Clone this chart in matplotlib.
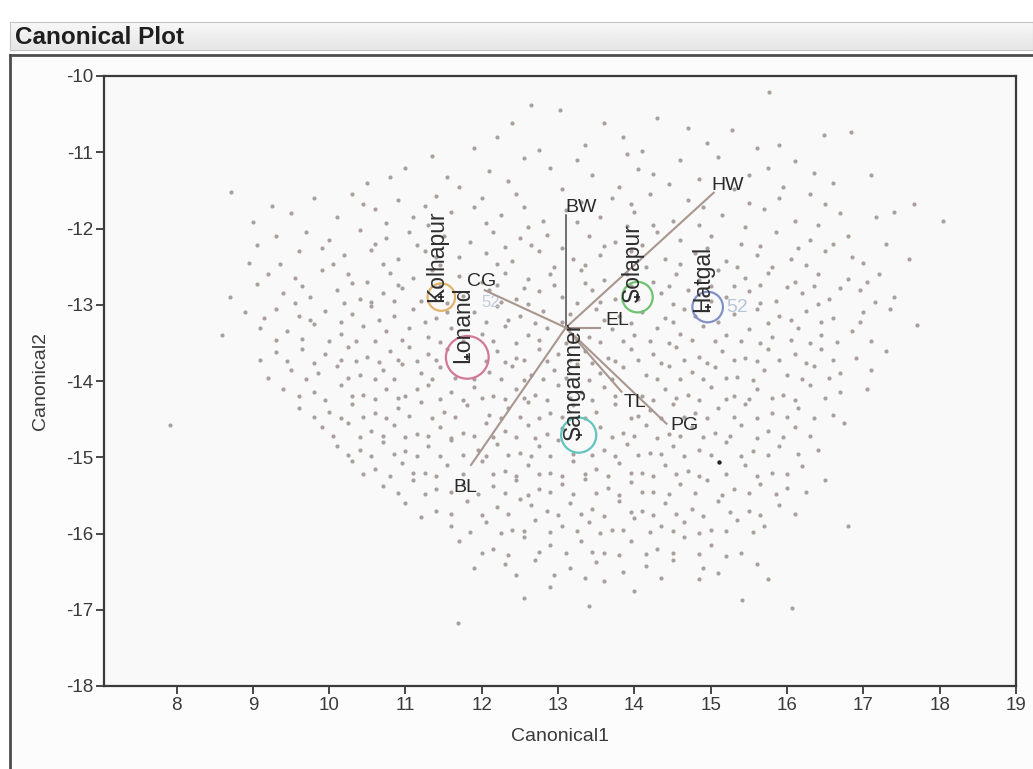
import numpy as np
import matplotlib
matplotlib.use("Agg")
import matplotlib.pyplot as plt
from matplotlib.patches import Circle
from matplotlib import font_manager

plt.rcParams['font.family'] = ['Liberation Sans', 'DejaVu Sans']
narrow_font = ['Liberation Sans Narrow', 'Liberation Sans', 'DejaVu Sans']
print(sorted({f.name for f in font_manager.fontManager.ttflist if 'Liberation' in f.name}))

# canonical scores of the individual samples (Canonical1, Canonical2)
scores = [
    (15.77, -10.21), (12.65, -10.38), (13.02, -10.44), (13.6, -10.62), (15.28, -10.71), (16.48, -10.77),
    (16.84, -10.74), (14.3, -10.55), (12.2, -10.8), (14.95, -10.88), (13.35, -10.9), (11.9, -10.95),
    (15.6, -10.95), (14.1, -10.98),
    (11.35, -11.05), (12.55, -11.08), (13.9, -11.02), (14.6, -11.1), (15.1, -11.06), (16.1, -11.12),
    (11.0, -11.2), (12.1, -11.25), (12.9, -11.2), (13.45, -11.3), (14.25, -11.28), (14.85, -11.35),
    (15.5, -11.3), (16.6, -11.4), (10.5, -11.4), (11.7, -11.45), (13.05, -11.48), (13.8, -11.45),
    (15.3, -11.48), (17.1, -11.3), (8.71, -11.52),
    (9.8, -11.6), (10.3, -11.55), (10.9, -11.62), (11.4, -11.58), (12.0, -11.6), (12.45, -11.55),
    (13.3, -11.65), (13.7, -11.6), (14.2, -11.55), (14.7, -11.62), (15.9, -11.6), (16.3, -11.55),
    (17.67, -11.68), (9.5, -11.8), (10.1, -11.85), (10.6, -11.75), (11.1, -11.85), (11.6, -11.78),
    (12.25, -11.82), (12.8, -11.9), (13.55, -11.85), (14.0, -11.78), (14.5, -11.9), (15.15, -11.82),
    (15.7, -11.75), (16.1, -11.9), (16.7, -11.8), (17.16, -11.85), (18.04, -11.9), (9.0, -11.92),
    (11.3, -11.95), (12.6, -11.98), (13.9, -11.97), (15.45, -11.98),
    (9.3, -12.1), (9.7, -12.05), (10.0, -12.15), (10.4, -12.02), (10.75, -12.12), (11.05, -12.05),
    (11.5, -12.1), (11.85, -12.18), (12.15, -12.05), (12.5, -12.12), (12.85, -12.08), (13.4, -12.1),
    (13.75, -12.18), (14.3, -12.05), (14.6, -12.15), (15.0, -12.1), (15.4, -12.2), (15.85, -12.05),
    (16.3, -12.15), (16.8, -12.1), (17.3, -12.2), (9.6, -12.3), (10.2, -12.35), (10.55, -12.28),
    (10.9, -12.4), (11.25, -12.3), (11.7, -12.38), (12.05, -12.32), (12.4, -12.42), (12.75, -12.3),
    (13.2, -12.4), (13.55, -12.35), (13.95, -12.3), (14.4, -12.4), (14.8, -12.32), (15.2, -12.42),
    (15.6, -12.35), (16.05, -12.4), (16.5, -12.3), (17.0, -12.45), (8.95, -12.45), (17.6, -12.4),
    (11.45, -12.48), (12.95, -12.5), (14.15, -12.5), (15.8, -12.5),
    (9.2, -12.6), (9.55, -12.65), (9.9, -12.55), (10.25, -12.6), (10.5, -12.7), (10.8, -12.58),
    (11.1, -12.65), (11.35, -12.55), (11.7, -12.62), (12.0, -12.7), (12.3, -12.58), (12.6, -12.66),
    (12.9, -12.6), (13.3, -12.55), (13.6, -12.68), (13.9, -12.6), (14.25, -12.7), (14.55, -12.6),
    (14.85, -12.68), (15.1, -12.55), (15.45, -12.65), (15.75, -12.58), (16.1, -12.7), (16.4, -12.6),
    (16.8, -12.66), (17.2, -12.6), (9.4, -12.85), (9.75, -12.9), (10.1, -12.8), (10.4, -12.92),
    (10.7, -12.85), (10.95, -12.78), (11.2, -12.95), (11.75, -12.88), (12.1, -12.8), (12.45, -12.92),
    (12.75, -12.82), (13.05, -12.9), (13.45, -12.8), (13.75, -12.92), (14.35, -12.85), (14.7, -12.8),
    (15.2, -12.9), (15.5, -12.82), (15.85, -12.95), (16.2, -12.85), (16.55, -12.92), (16.95, -12.8),
    (17.4, -12.9), (8.7, -12.9), (10.2, -12.98), (11.55, -12.98), (13.25, -12.98), (14.5, -12.99),
    (15.3, -12.75), (16.0, -12.77),
    (8.9, -13.1), (9.3, -13.05), (9.6, -13.15), (9.95, -13.08), (10.3, -13.12), (10.55, -13.02),
    (10.85, -13.15), (11.1, -13.05), (11.4, -13.18), (11.9, -13.1), (12.2, -13.02), (12.5, -13.15),
    (12.8, -13.08), (13.15, -13.12), (13.5, -13.05), (13.8, -13.15), (14.1, -13.1), (14.4, -13.18),
    (14.65, -13.05), (15.3, -13.12), (15.6, -13.05), (15.9, -13.15), (16.25, -13.08), (16.6, -13.18),
    (17.0, -13.1), (17.35, -13.05), (9.1, -13.3), (9.45, -13.35), (9.8, -13.25), (10.15, -13.38),
    (10.45, -13.28), (10.75, -13.35), (11.05, -13.3), (11.3, -13.42), (11.6, -13.3), (12.0, -13.38),
    (12.3, -13.28), (12.6, -13.4), (12.85, -13.3), (13.4, -13.42), (13.7, -13.32), (14.0, -13.4),
    (14.3, -13.3), (14.6, -13.38), (14.9, -13.28), (15.2, -13.4), (15.5, -13.32), (15.8, -13.42),
    (16.15, -13.3), (16.45, -13.4), (16.85, -13.35), (17.7, -13.27), (10.0, -13.48), (11.75, -13.48),
    (13.1, -13.5), (15.05, -13.48), (16.3, -13.5), (8.6, -13.4),
    (9.3, -13.62), (9.65, -13.58), (9.95, -13.65), (10.25, -13.55), (10.5, -13.68), (10.8, -13.6),
    (11.05, -13.55), (11.3, -13.65), (11.55, -13.58), (12.2, -13.6), (12.45, -13.7), (12.75, -13.58),
    (13.0, -13.65), (13.35, -13.6), (13.65, -13.7), (13.95, -13.58), (14.25, -13.65), (14.55, -13.55),
    (14.85, -13.68), (15.15, -13.6), (15.45, -13.7), (15.75, -13.58), (16.1, -13.65), (16.45, -13.58),
    (16.9, -13.7), (17.3, -13.6), (9.5, -13.85), (9.85, -13.9), (10.1, -13.8), (10.4, -13.92),
    (10.7, -13.85), (10.95, -13.78), (11.2, -13.9), (11.45, -13.82), (12.1, -13.88), (12.4, -13.8),
    (12.65, -13.92), (12.95, -13.85), (13.25, -13.78), (13.55, -13.9), (13.85, -13.82), (14.15, -13.92),
    (14.45, -13.8), (14.75, -13.88), (15.05, -13.82), (15.35, -13.95), (15.7, -13.85), (16.0, -13.92),
    (16.35, -13.8), (16.7, -13.9), (10.6, -13.98), (11.9, -13.98), (13.4, -13.99), (14.9, -13.98),
    (9.4, -14.1), (9.8, -14.15), (10.15, -14.05), (10.45, -14.18), (10.75, -14.1), (11.0, -14.2),
    (11.3, -14.05), (11.6, -14.15), (11.9, -14.08), (12.15, -14.2), (12.45, -14.1), (12.7, -14.18),
    (13.0, -14.05), (13.3, -14.15), (13.6, -14.08), (14.1, -14.2), (14.4, -14.1), (14.7, -14.18),
    (15.0, -14.08), (15.3, -14.2), (15.6, -14.1), (15.95, -14.18), (16.3, -14.05), (16.7, -14.15),
    (17.05, -14.1), (9.6, -14.35), (10.0, -14.4), (10.3, -14.3), (10.6, -14.42), (10.9, -14.35),
    (11.2, -14.28), (11.5, -14.4), (11.8, -14.32), (12.1, -14.45), (12.35, -14.35), (12.6, -14.28),
    (12.9, -14.42), (13.2, -14.32), (13.5, -14.4), (13.75, -14.3), (14.2, -14.38), (14.5, -14.3),
    (14.8, -14.42), (15.1, -14.35), (15.45, -14.3), (15.8, -14.42), (16.15, -14.35), (16.6, -14.45),
    (7.92, -14.58), (11.35, -14.48), (13.95, -14.48),
    (9.9, -14.6), (10.25, -14.55), (10.55, -14.65), (10.85, -14.58), (11.15, -14.7), (11.45, -14.6),
    (11.75, -14.68), (12.05, -14.55), (12.3, -14.65), (12.6, -14.58), (12.85, -14.7), (13.55, -14.6),
    (13.85, -14.68), (14.15, -14.58), (14.45, -14.7), (14.75, -14.6), (15.05, -14.68), (15.4, -14.58),
    (15.75, -14.65), (16.1, -14.6), (16.75, -14.55), (10.1, -14.85), (10.4, -14.9), (10.7, -14.8),
    (11.0, -14.92), (11.3, -14.85), (11.6, -14.78), (11.95, -14.9), (12.2, -14.82), (12.5, -14.95),
    (12.75, -14.85), (13.0, -14.78), (13.6, -14.9), (13.9, -14.82), (14.2, -14.95), (14.5, -14.85),
    (14.85, -14.9), (15.2, -14.8), (15.55, -14.92), (15.9, -14.85), (16.4, -14.9), (12.9, -14.98),
    (11.45, -14.99),
    (10.3, -15.05), (10.6, -15.15), (10.95, -15.08), (11.25, -15.2), (11.55, -15.1), (12.0, -15.05),
    (12.3, -15.18), (12.6, -15.1), (12.9, -15.2), (13.2, -15.05), (13.5, -15.15), (13.8, -15.08),
    (14.1, -15.2), (14.4, -15.1), (14.7, -15.18), (15.45, -15.1), (15.8, -15.2), (16.2, -15.12),
    (10.7, -15.38), (11.1, -15.3), (11.4, -15.42), (11.75, -15.35), (12.15, -15.38), (12.45, -15.3),
    (12.75, -15.42), (13.05, -15.35), (13.35, -15.28), (13.65, -15.4), (13.95, -15.32), (14.25, -15.45),
    (14.6, -15.35), (14.95, -15.3), (15.3, -15.42), (15.65, -15.35), (16.0, -15.4), (16.5, -15.3),
    (11.0, -15.6), (11.4, -15.7), (11.8, -15.58), (12.2, -15.65), (12.5, -15.55), (12.85, -15.7),
    (13.15, -15.6), (13.45, -15.68), (13.8, -15.58), (14.1, -15.7), (14.4, -15.6), (14.75, -15.68),
    (15.1, -15.58), (15.5, -15.7), (15.9, -15.62), (11.6, -15.9), (12.05, -15.85), (12.4, -15.95),
    (12.7, -15.82), (13.05, -15.9), (13.4, -15.85), (13.7, -15.95), (14.0, -15.8), (14.35, -15.9),
    (14.65, -15.85), (15.0, -15.95), (15.35, -15.82), (15.7, -15.9), (16.8, -15.9),
    (11.7, -16.1), (12.15, -16.2), (12.55, -16.05), (12.9, -16.15), (13.3, -16.1), (13.6, -16.25),
    (13.95, -16.1), (14.3, -16.2), (14.65, -16.05), (15.0, -16.15), (15.4, -16.25), (12.3, -16.4),
    (12.7, -16.35), (13.15, -16.45), (13.5, -16.38), (14.15, -16.42), (14.5, -16.35), (14.9, -16.45),
    (15.6, -16.4), (11.9, -16.45),
    (13.35, -16.58), (13.6, -16.62), (12.55, -16.85), (14.85, -16.6), (15.41, -16.87), (16.07, -16.98),
    (11.69, -17.17), (13.4, -16.95), (14.0, -16.75), (12.9, -16.7),
    # second pass of samples
    (12.4, -10.62), (14.7, -10.68), (13.85, -10.8), (15.9, -10.9), (12.75, -10.97), (11.55, -11.32),
    (12.35, -11.38), (13.25, -11.1), (14.05, -11.22), (15.75, -11.2), (16.35, -11.27), (10.8, -11.32),
    (14.45, -11.42), (15.95, -11.45),
    (9.25, -11.7), (10.45, -11.68), (11.25, -11.7), (11.9, -11.72), (12.55, -11.72), (13.1, -11.76),
    (13.95, -11.68), (14.9, -11.72), (15.5, -11.66), (16.5, -11.68), (10.75, -11.93), (12.05, -11.93),
    (13.25, -11.92), (14.25, -11.95), (14.85, -11.96), (16.4, -11.96), (17.4, -11.78),
    (9.05, -12.22), (9.9, -12.25), (10.6, -12.2), (11.15, -12.22), (11.4, -12.38), (12.3, -12.24),
    (12.65, -12.22), (13.05, -12.25), (13.6, -12.23), (14.1, -12.22), (14.95, -12.26), (15.65, -12.23),
    (16.15, -12.25), (16.6, -12.2), (9.35, -12.47), (10.05, -12.46), (10.7, -12.47), (12.2, -12.47),
    (13.35, -12.48), (14.6, -12.47), (15.35, -12.5), (16.25, -12.48), (16.85, -12.38),
    (9.05, -12.73), (9.65, -12.76), (10.3, -12.72), (10.9, -12.74), (11.45, -12.75), (12.2, -12.74),
    (12.55, -12.78), (12.95, -12.74), (13.35, -12.72), (13.95, -12.75), (14.45, -12.76), (15.0, -12.75),
    (15.65, -12.74), (16.35, -12.76), (16.7, -12.78), (17.05, -12.7), (9.55, -12.98), (10.55, -12.97),
    (10.85, -12.95), (12.25, -12.96), (12.6, -12.99), (13.55, -12.97), (14.05, -12.92), (15.0, -12.95),
    (15.65, -12.98), (16.4, -12.99), (17.15, -12.97),
    (9.15, -13.18), (9.75, -13.2), (10.15, -13.22), (10.65, -13.2), (11.25, -13.22), (11.55, -13.1),
    (12.05, -13.22), (12.35, -13.2), (12.7, -13.24), (13.05, -13.22), (13.6, -13.2), (13.95, -13.24),
    (14.5, -13.22), (14.8, -13.15), (15.1, -13.22), (15.75, -13.24), (16.05, -13.2), (16.45, -13.22),
    (16.95, -13.22), (9.3, -13.46), (9.65, -13.45), (10.35, -13.47), (10.6, -13.48), (10.95, -13.46),
    (11.45, -13.49), (12.15, -13.47), (12.45, -13.5), (12.75, -13.46), (13.55, -13.49), (13.85, -13.48),
    (14.2, -13.48), (14.45, -13.5), (14.75, -13.46), (15.4, -13.47), (15.65, -13.5), (16.05, -13.46),
    (16.65, -13.49), (17.1, -13.47),
    (9.1, -13.72), (9.45, -13.74), (9.8, -13.76), (10.15, -13.72), (10.35, -13.74), (10.65, -13.75),
    (10.9, -13.72), (11.15, -13.74), (11.4, -13.72), (12.05, -13.74), (12.3, -13.75), (12.55, -13.72),
    (12.85, -13.74), (13.15, -13.72), (13.45, -13.76), (13.75, -13.74), (14.05, -13.72), (14.35, -13.76),
    (14.65, -13.73), (14.95, -13.76), (15.3, -13.72), (15.6, -13.74), (15.9, -13.73), (16.25, -13.76),
    (16.6, -13.72), (9.2, -13.96), (9.7, -13.98), (10.25, -13.96), (10.85, -13.97), (11.35, -13.98),
    (11.65, -13.96), (12.25, -13.97), (12.55, -13.99), (12.8, -13.97), (13.1, -13.96), (13.7, -13.98),
    (14.3, -13.97), (14.6, -13.98), (15.2, -13.96), (15.55, -13.99), (16.2, -13.97), (16.55, -13.96),
    (17.1, -13.85),
    (9.6, -14.2), (9.95, -14.25), (10.3, -14.2), (10.6, -14.23), (10.9, -14.22), (11.15, -14.1),
    (11.45, -14.24), (11.75, -14.25), (12.0, -14.22), (12.3, -14.24), (12.55, -14.22), (12.85, -14.25),
    (13.15, -14.22), (13.45, -14.25), (13.75, -14.2), (14.25, -14.25), (14.55, -14.22), (14.85, -14.25),
    (15.2, -14.23), (15.5, -14.24), (15.8, -14.22), (16.1, -14.25), (16.5, -14.22), (9.8, -14.47),
    (10.15, -14.48), (10.45, -14.47), (10.75, -14.49), (11.05, -14.46), (11.65, -14.47), (12.25, -14.49),
    (12.5, -14.47), (12.75, -14.48), (13.05, -14.47), (13.35, -14.49), (14.05, -14.46), (14.35, -14.48),
    (14.65, -14.47), (14.95, -14.49), (15.3, -14.47), (15.6, -14.49), (16.0, -14.47), (16.35, -14.48),
    (10.05, -14.72), (10.4, -14.74), (10.7, -14.72), (11.0, -14.74), (11.3, -14.72), (11.6, -14.75),
    (11.9, -14.72), (12.15, -14.74), (12.45, -14.73), (12.7, -14.75), (13.05, -14.62), (13.7, -14.74),
    (14.0, -14.72), (14.3, -14.75), (14.6, -14.72), (14.9, -14.74), (15.25, -14.72), (15.6, -14.75),
    (15.95, -14.73), (16.3, -14.72), (10.25, -14.97), (10.55, -14.98), (10.85, -14.96), (11.15, -14.98),
    (11.75, -14.97), (12.05, -14.98), (12.35, -14.97), (12.65, -14.98), (13.2, -14.96), (13.45, -14.97),
    (13.75, -14.98), (14.05, -14.97), (14.35, -14.96), (14.65, -14.98), (15.0, -14.97), (15.4, -14.98),
    (15.75, -14.97), (16.15, -14.96),
    (10.45, -15.22), (10.8, -15.24), (11.1, -15.2), (11.4, -15.25), (11.75, -15.22), (12.15, -15.22),
    (12.45, -15.25), (12.75, -15.22), (13.05, -15.24), (13.35, -15.22), (13.65, -15.25), (13.95, -15.2),
    (14.25, -15.24), (14.55, -15.22), (14.85, -15.25), (15.2, -15.22), (15.6, -15.24), (16.0, -15.22),
    (10.9, -15.47), (11.25, -15.48), (11.6, -15.46), (11.95, -15.48), (12.3, -15.47), (12.6, -15.49),
    (12.9, -15.46), (13.2, -15.48), (13.5, -15.47), (13.8, -15.49), (14.1, -15.46), (14.45, -15.48),
    (14.8, -15.47), (15.15, -15.49), (15.5, -15.47), (15.85, -15.48), (16.25, -15.46),
    (11.2, -15.78), (11.6, -15.74), (12.0, -15.76), (12.35, -15.74), (12.65, -15.62), (13.0, -15.76),
    (13.3, -15.74), (13.6, -15.77), (13.95, -15.72), (14.25, -15.76), (14.55, -15.74), (14.9, -15.77),
    (15.25, -15.72), (15.65, -15.76), (16.1, -15.74), (11.85, -15.98), (12.25, -15.99), (12.55, -15.97),
    (12.9, -15.98), (13.25, -15.97), (13.55, -15.99), (13.85, -15.96), (14.2, -15.98), (14.5, -15.97),
    (14.85, -15.99), (15.2, -15.97), (15.55, -15.98),
    (12.0, -16.25), (12.35, -16.28), (12.75, -16.24), (13.1, -16.26), (13.45, -16.24), (13.8, -16.28),
    (14.15, -16.27), (14.5, -16.25), (14.85, -16.27), (15.2, -16.3), (12.45, -16.55), (12.95, -16.55),
    (13.85, -16.5), (14.35, -16.58), (15.1, -16.52), (15.75, -16.6),
]
highlighted = (15.11, -15.06)

# group means and their confidence circle radii
groups = ['Kolhapur', 'Lonand', 'Solapur', 'Hatgal', 'Sangamner']
group_c1 = [11.47, 11.81, 14.04, 14.96, 13.27]
group_c2 = [-12.90, -13.69, -12.90, -13.03, -14.71]
group_radius = [0.18, 0.28, 0.20, 0.20, 0.23]
group_colors = ['#e0b36c', '#d37896', '#6fc26f', '#8291c6', '#62c4bf']

# biplot rays for the measured traits
origin = (13.10, -13.30)
traits = ['BW', 'HW', 'CG', 'EL', 'TL', 'PG', 'BL']
trait_c1 = [13.10, 15.04, 12.04, 13.55, 13.83, 14.42, 11.86]
trait_c2 = [-11.82, -11.53, -12.81, -13.30, -14.14, -14.56, -15.10]
label_offset = {'BW': (0.0, 0.10), 'HW': (-0.03, 0.09), 'CG': (-0.23, 0.12), 'EL': (0.07, 0.09),
                'TL': (0.03, -0.14), 'PG': (0.05, -0.03), 'BL': (-0.23, -0.30)}

W, H = 1033, 769
fig = plt.figure(figsize=(W / 100, H / 100), dpi=100)
fig.patch.set_facecolor('white')

# report header bar
ax_bar = fig.add_axes([10 / W, 1 - 50 / H, 1 - 10 / W, 28 / H])
grad = np.linspace(0.97, 0.90, 50).reshape(-1, 1)
ax_bar.imshow(grad, aspect='auto', cmap='gray', vmin=0, vmax=1, extent=[0, 1, 0, 1])
ax_bar.set_xticks([])
ax_bar.set_yticks([])
for s in ax_bar.spines.values():
    s.set_color('#c4c4c4')
ax_bar.text(0.005, 0.45, 'Canonical Plot', transform=ax_bar.transAxes, fontsize=17.5,
            fontweight='bold', color='#1e1e1e', va='center', ha='left')

# outline of the report panel
ax_panel = fig.add_axes([10 / W, -0.02, 1.0, 1 - 55 / H + 0.02])
ax_panel.set_facecolor('#fcfcfc')
ax_panel.set_xticks([])
ax_panel.set_yticks([])
for name, s in ax_panel.spines.items():
    s.set_color('#4d4d4d')
    s.set_linewidth(2)
ax_panel.spines['right'].set_visible(False)
ax_panel.spines['bottom'].set_visible(False)

ax = fig.add_axes([104 / W, 1 - 686 / H, 912 / W, 610 / H])
ax.set_facecolor('#f9f9f9')

pts = np.array(scores)
ax.scatter(pts[:, 0], pts[:, 1], s=9, color='#a99f9c', linewidths=0, zorder=2)
ax.scatter([highlighted[0]], [highlighted[1]], s=10, color='#222222', linewidths=0, zorder=3)

for name, x, y in zip(traits, trait_c1, trait_c2):
    col = '#4a4a4a' if name == 'BW' else '#a8968f'
    lw = 1.1 if name == 'BW' else 1.5
    ax.plot([origin[0], x], [origin[1], y], color=col, lw=lw, zorder=4)
    dx, dy = label_offset[name]
    ax.text(x + dx, y + dy, name, fontsize=14, color='#2a2a2a', ha='left', va='center', zorder=6)

for name, x, y, r, c in zip(groups, group_c1, group_c2, group_radius, group_colors):
    ax.add_patch(Circle((x, y), r, fill=False, edgecolor=c, lw=1.6, zorder=5))
    ax.plot(x, y, marker='+', ms=5, mew=1.2, color='#222222', zorder=6)
    ax.text(x + 0.02, y - 0.07, name, rotation=90, rotation_mode='anchor', ha='left',
            va='baseline', fontsize=16.5, family=narrow_font, color='#2e2e2e', zorder=6)

# faint sample ids next to the group means
ax.text(15.2, -13.03, '52', fontsize=14, color='#b8c4d8', ha='left', va='center', zorder=3)
ax.text(12.0, -12.97, '52', fontsize=12, color='#c2cbdb', ha='left', va='center', zorder=3)

ax.set_xlim(7.05, 19.0)
ax.set_ylim(-18, -10)
ax.set_xticks(range(8, 20))
ax.set_yticks(range(-18, -9))
ax.set_yticklabels([f'-{abs(v)}' for v in range(-18, -9)])
ax.tick_params(direction='out', length=6, width=1.3, color='#3a3a3a',
               labelsize=13.5, labelcolor='#3a3a3a', pad=2)
for s in ax.spines.values():
    s.set_color('#3a3a3a')
    s.set_linewidth(1.6)
ax.set_xlabel('Canonical1', fontsize=14, color='#3a3a3a', labelpad=10)
ax.set_ylabel('Canonical2', fontsize=14, color='#3a3a3a', labelpad=12)

fig.savefig('out.png', dpi=100)
